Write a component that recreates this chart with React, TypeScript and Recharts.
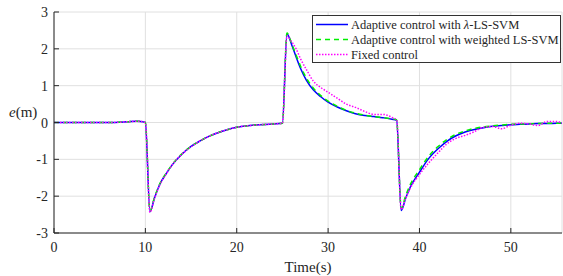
import React from 'react';
import {
    LineChart,
    Line,
    XAxis,
    YAxis,
    CartesianGrid,
    Legend,
    Label
} from 'recharts';

const FONT = '"Liberation Serif", "Times New Roman", serif';
const INK = '#262626';

// time samples (s)
const time = [
    0, 2, 4, 6, 8, 9, 9.5, 10, 10.5, 11, 11.6, 12.3, 13, 14, 15, 16, 17, 18.5, 20, 22, 24, 25,
    25.5, 26, 26.5, 27, 27.6, 28.4, 29.2, 30, 31, 32, 33, 34, 35, 36, 37, 37.5,
    38, 38.5, 39, 40, 41, 42, 43, 44, 45, 46, 47, 48, 49, 50, 51, 52, 53, 54, 55, 55.6
];

// Adaptive control with lambda-LS-SVM
const lambdaSvm = [
    0, 0, 0, 0, 0.02, 0.035, 0.03, 0, -2.42, -2.05, -1.67, -1.38, -1.13, -0.86, -0.65, -0.5, -0.37, -0.23, -0.13, -0.07, -0.04, -0.02,
    2.41, 2.12, 1.78, 1.46, 1.16, 0.88, 0.7, 0.55, 0.42, 0.32, 0.24, 0.19, 0.16, 0.13, 0.09, 0.06,
    -2.39, -2.05, -1.75, -1.35, -0.98, -0.72, -0.51, -0.36, -0.26, -0.19, -0.14, -0.1, -0.08, -0.06, -0.05, -0.04, -0.03, -0.03, -0.02, -0.02
];

// Adaptive control with weighted LS-SVM
const weightedSvm = [
    0, 0, 0, 0, 0.02, 0.035, 0.03, 0, -2.4, -2.03, -1.65, -1.37, -1.12, -0.85, -0.65, -0.5, -0.37, -0.23, -0.13, -0.07, -0.04, -0.02,
    2.43, 2.15, 1.83, 1.52, 1.22, 0.93, 0.73, 0.58, 0.44, 0.33, 0.25, 0.2, 0.16, 0.13, 0.1, 0.07,
    -2.33, -1.98, -1.68, -1.28, -0.92, -0.66, -0.46, -0.32, -0.23, -0.16, -0.12, -0.09, -0.07, -0.05, -0.04, -0.04, -0.03, -0.02, -0.02, -0.01
];

// Fixed control
const fixedCtrl = [
    0, 0, 0, 0, 0.02, 0.035, 0.03, 0, -2.44, -2.06, -1.68, -1.39, -1.13, -0.86, -0.66, -0.5, -0.37, -0.23, -0.13, -0.07, -0.04, -0.02,
    2.35, 2.2, 2.0, 1.72, 1.45, 1.12, 0.95, 0.82, 0.66, 0.5, 0.41, 0.3, 0.22, 0.22, 0.14, 0.07,
    -2.36, -2.05, -1.78, -1.41, -1.1, -0.83, -0.58, -0.43, -0.35, -0.25, -0.13, -0.11, -0.17, -0.07, -0.02, -0.04, -0.08, 0.03, 0.03, -0.02
];

const xTicks = [0, 10, 20, 30, 40, 50];
const yTicks = [-3, -2, -1, 0, 1, 2, 3];

const data = time.map((t, i) => ({
    t,
    lambda: lambdaSvm[i],
    weighted: weightedSvm[i],
    fixed: fixedCtrl[i]
}));

const legendItems = [
    { label: <>Adaptive control with <tspan fontStyle="italic">λ</tspan>-LS-SVM</>, color: '#0000ff', dash: undefined },
    { label: <>Adaptive control with weighted LS-SVM</>, color: '#00ee00', dash: '5 4' },
    { label: <>Fixed control</>, color: '#ff00ff', dash: '1.5 1.5' }
];

const LegendBox = () => (
    <svg width={249} height={48} style={{ display: 'block' }}>
        <rect x={0.5} y={0.5} width={248} height={47} fill="#fff" stroke="#333" />
        {legendItems.map((item, i) => {
            const cy = 9.5 + i * 15;
            return (
                <g key={i}>
                    <line x1={4} x2={36} y1={cy} y2={cy} stroke={item.color} strokeWidth={1.5} strokeDasharray={item.dash} />
                    <text x={39} y={cy + 4.3} fontSize={12.5} fontFamily={FONT} fill={INK}>
                        {item.label}
                    </text>
                </g>
            );
        })}
    </svg>
);

const renderYLabel = () => (
    <text x={9} y={117} fontSize={15} fontFamily={FONT} fill={INK}>
        <tspan fontStyle="italic">e</tspan>(m)
    </text>
);

// MATLAB style: tick marks point into the plot box
const BottomTick = ({ x, y, payload }: any) => (
    <g>
        <line x1={x} x2={x} y1={y} y2={y - 5} stroke={INK} />
        <text x={x} y={y + 19} textAnchor="middle" fontSize={14} fontFamily={FONT} fill={INK}>
            {payload.value}
        </text>
    </g>
);

const LeftTick = ({ x, y, payload }: any) => (
    <g>
        <line x1={x} x2={x + 5} y1={y} y2={y} stroke={INK} />
        <text x={x - 6} y={y + 5} textAnchor="end" fontSize={14} fontFamily={FONT} fill={INK}>
            {payload.value}
        </text>
    </g>
);

const TopTick = ({ x, y }: any) => <line x1={x} x2={x} y1={y} y2={y + 5} stroke={INK} />;

const RightTick = ({ x, y }: any) => <line x1={x - 5} x2={x} y1={y} y2={y} stroke={INK} />;

const App = () => {
    return (
        <div style={{ position: 'absolute', left: 0, top: 0, fontFamily: FONT }}>
            <LineChart
                width={563}
                height={276}
                data={data}
                margin={{ top: 12, right: 1, left: 0, bottom: 0 }}
            >
                <CartesianGrid stroke="#e0e0e0" />
                <XAxis
                    dataKey="t"
                    type="number"
                    domain={[0, 55.6]}
                    allowDataOverflow
                    ticks={xTicks}
                    height={43}
                    tickSize={0}
                    tickMargin={0}
                    tickLine={false}
                    stroke={INK}
                    tick={BottomTick}
                >
                    <Label value="Time(s)" position="insideBottom" offset={4} fill={INK} fontSize={15} fontFamily={FONT} />
                </XAxis>
                <XAxis
                    xAxisId="top"
                    orientation="top"
                    dataKey="t"
                    type="number"
                    domain={[0, 55.6]}
                    allowDataOverflow
                    ticks={xTicks}
                    height={0}
                    tickSize={0}
                    tickMargin={0}
                    tickLine={false}
                    tick={TopTick}
                    stroke={INK}
                />
                <YAxis
                    type="number"
                    domain={[-3, 3]}
                    ticks={yTicks}
                    width={54}
                    tickSize={0}
                    tickMargin={0}
                    tickLine={false}
                    stroke={INK}
                    tick={LeftTick}
                >
                    <Label content={renderYLabel} />
                </YAxis>
                <YAxis
                    yAxisId="right"
                    orientation="right"
                    type="number"
                    domain={[-3, 3]}
                    ticks={yTicks}
                    width={0}
                    tickSize={0}
                    tickMargin={0}
                    tickLine={false}
                    tick={RightTick}
                    stroke={INK}
                />
                <Legend
                    layout="horizontal"
                    verticalAlign="middle"
                    align="center"
                    content={() => <LegendBox />}
                    wrapperStyle={{ left: 312, top: 15, width: 249, height: 48 }}
                />
                <Line
                    type="monotone"
                    dataKey="lambda"
                    stroke="#0000ff"
                    strokeWidth={1.5}
                    dot={false}
                    isAnimationActive={false}
                />
                <Line
                    type="monotone"
                    dataKey="weighted"
                    stroke="#00ee00"
                    strokeWidth={1.5}
                    strokeDasharray="5 4"
                    dot={false}
                    isAnimationActive={false}
                />
                <Line
                    type="monotone"
                    dataKey="fixed"
                    stroke="#ff00ff"
                    strokeWidth={1.5}
                    strokeDasharray="1.5 1.5"
                    dot={false}
                    isAnimationActive={false}
                />
            </LineChart>
        </div>
    );
};

export default App;
